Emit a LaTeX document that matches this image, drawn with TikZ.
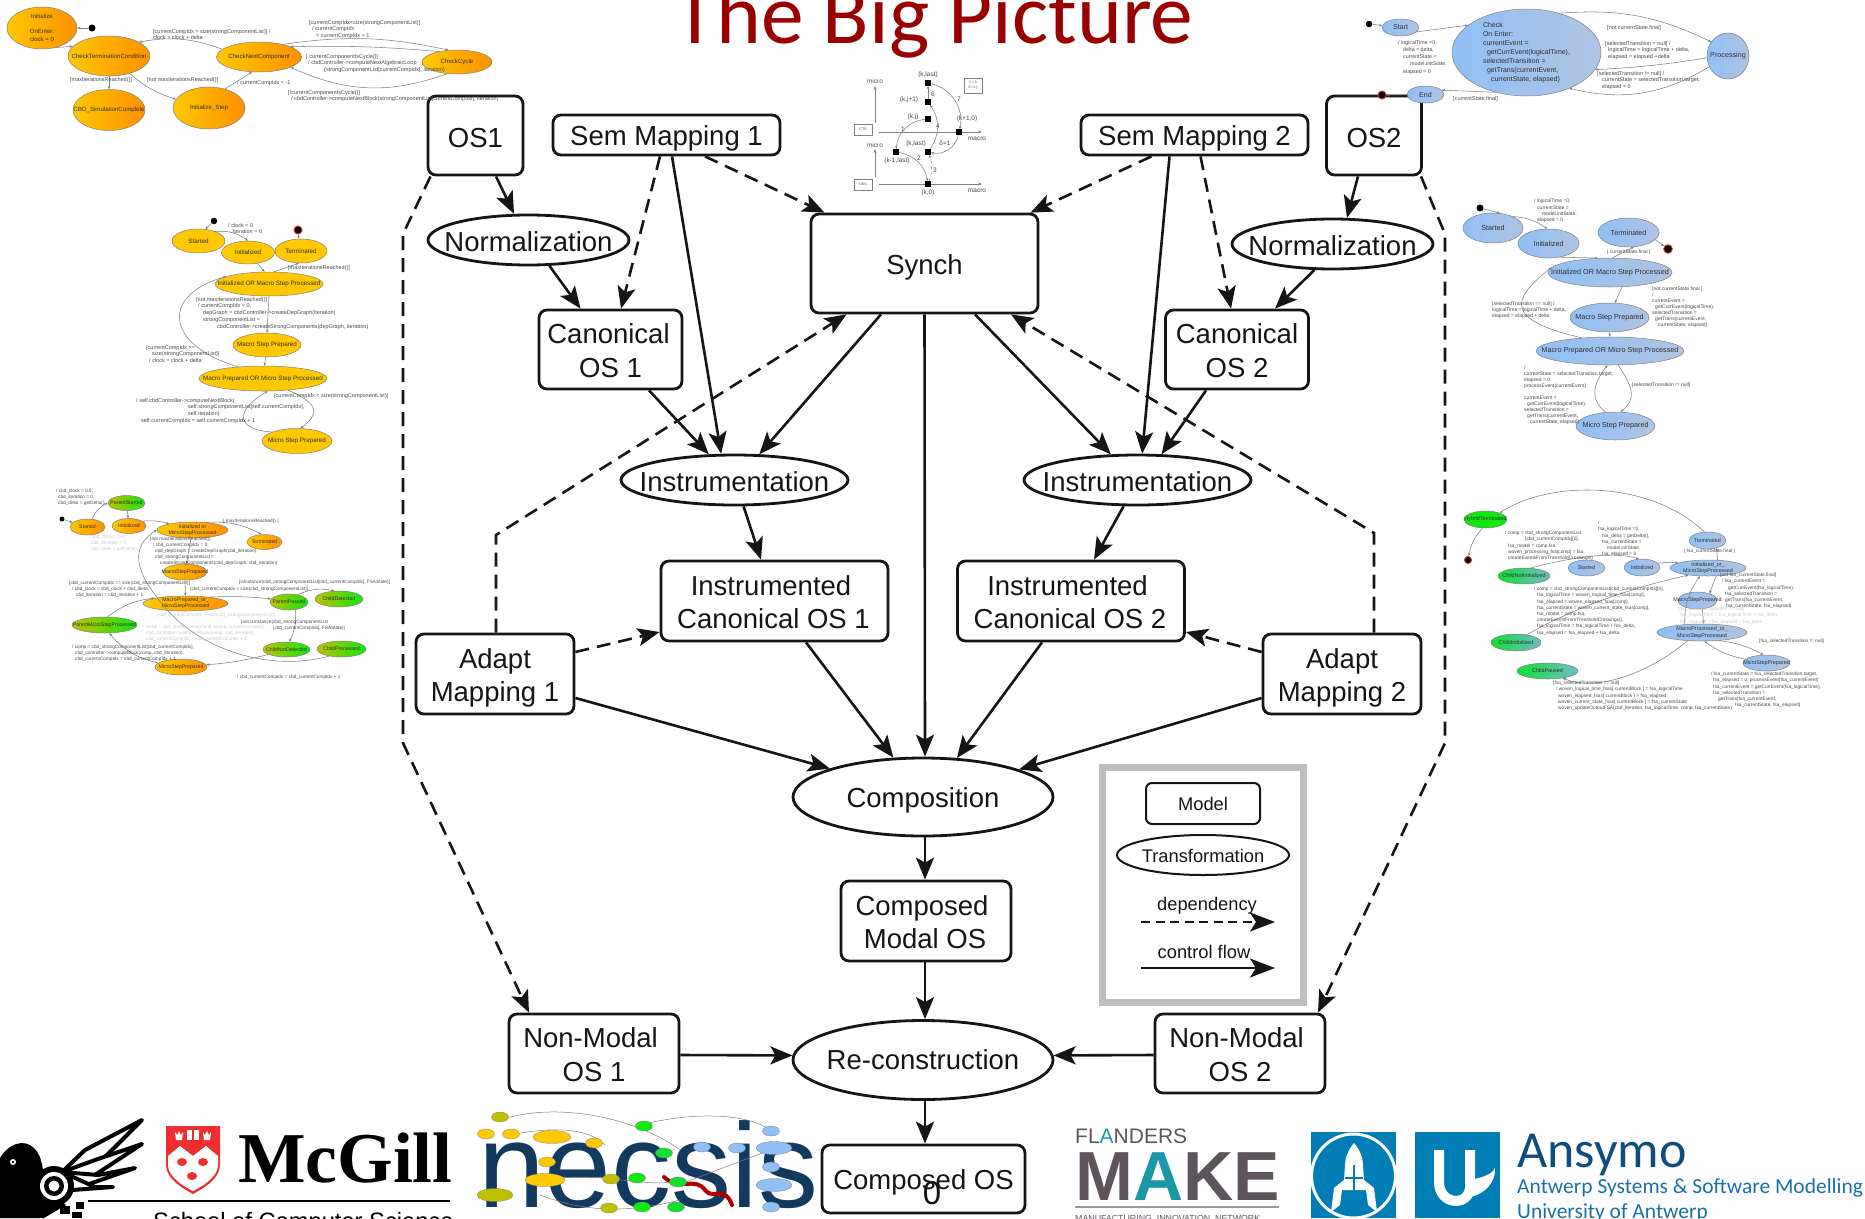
\documentclass[tikz,border=0pt]{standalone}
\usepackage{fontspec}
\setmainfont{Liberation Sans}
\newfontfamily\carl{Carlito}
\newfontfamily\lserif{Liberation Serif}
\usetikzlibrary{arrows.meta,shapes.geometric,calc}
\newcommand\fs[2]{\fontsize{#1}{#2}\selectfont}
\newcommand\ii[1]{\hspace*{#1pt}}
\newcommand\nd[1]{\rule{0pt}{#1pt}}
\definecolor{titlered}{HTML}{990000}
\definecolor{ink}{HTML}{151515}
\definecolor{stext}{HTML}{303030}
\definecolor{ltext}{HTML}{484848}
\definecolor{faint}{HTML}{C8C8C8}
\definecolor{sline}{HTML}{808080}
\definecolor{oa}{HTML}{FFC800}
\definecolor{ob}{HTML}{FF9000}
\definecolor{ygold}{HTML}{FFC800}
\definecolor{ba}{HTML}{90C0F5}
\definecolor{bb}{HTML}{AEC4E2}
\definecolor{ga}{HTML}{C0C000}
\definecolor{gb}{HTML}{10E810}
\definecolor{ta}{HTML}{10E030}
\definecolor{tb}{HTML}{70BCC8}
\definecolor{framegray}{HTML}{BEBEBE}
\definecolor{navy}{HTML}{123A5E}
\definecolor{fmgray}{HTML}{5C555C}
\definecolor{fmteal}{HTML}{1A98A8}
\definecolor{uablue}{HTML}{007DB5}
\definecolor{ansy}{HTML}{0F4D7C}
\definecolor{ansb}{HTML}{1A6FA8}
\definecolor{mcred}{HTML}{ED2F2F}
\tikzset{
  mbox/.style={draw=ink,fill=white,line width=2.8pt,rounded corners=8pt,inner sep=0pt,align=center,text=ink,font=\fs{27.5}{33.5}},
  mell/.style={ellipse,draw=ink,fill=white,line width=2.8pt,inner sep=-30pt,align=center,text=ink,font=\fs{27.5}{33.5}},
  ctrl/.style={draw=ink,line width=2.6pt,-{Stealth[length=22pt,width=18pt,inset=5pt]}},
  dep/.style={ctrl,dash pattern=on 14pt off 8pt},
  st/.style={ellipse,draw=sline,line width=.5pt,inner sep=-25pt,align=center,text=stext},
  org/.style={st,left color=oa,right color=ob},
  yel/.style={st,fill=ygold},
  blu/.style={st,left color=ba,right color=bb},
  grn/.style={st,left color=ga,right color=gb},
  tea/.style={st,left color=ta,right color=tb},
  hug/.style={st,fill=gb},
  lbl/.style={anchor=north west,inner sep=0pt,align=left,text=ltext},
  lfive/.style={lbl,font=\fs{5.5}{6.8}},
  lfour/.style={lbl,font=\fs{4.7}{6}},
  lsix/.style={lbl,font=\fs{4.8}{6.2}},
  lfaint/.style={lfour,text=faint},
  ee/.style={draw=sline,line width=.55pt,-{Stealth[length=3.2pt,width=2.6pt]}},
  idot/.style={circle,fill=black,inner sep=0pt,minimum size=#1},
  fdot/.style={circle,fill=black,draw=red!55!gray,line width=1pt,inner sep=0pt,minimum size=#1},
  sq/.style={fill=black,inner sep=0pt,minimum size=5.5pt},
  mlab/.style={inner sep=0pt,text=ltext,font=\fs{6.5}{8}},
  axis/.style={draw=sline,line width=.7pt,-{Stealth[length=4pt,width=3pt]}},
  tiny/.style={draw=sline,fill=white,line width=.5pt,inner sep=0pt,text=ltext,font=\fs{3.6}{5},align=center},
}
\begin{document}
\begin{tikzpicture}[x=1pt,y=-1pt]
\useasboundingbox (0,0) rectangle (1865,1218);

% title
\node[anchor=base,inner sep=0pt,text=titlered,font={\carl\fs{85.5}{90}}] (title) at (934,43.5) {The Big Picture};

%%%% logos, behind
% bird
\fill[black] (0,1158) .. controls (8,1144) and (24,1138) .. (34,1148) .. controls (44,1158) and (42,1172) .. (46,1185) -- (66,1205) -- (44,1218) -- (0,1218) -- cycle;
\fill[white] (13,1162) circle (3); \fill[black] (13,1162) circle (1.4);
\foreach \pa/\pb/\pc/\pd in {142/1120/85/1150,142/1144/95/1160,135/1168/98/1175,113/1187/95/1187}{
  \filldraw[draw=black,line width=4pt,fill=white,line join=round] (\pa,\pb) -- (\pc,\pd) -- (62,1172) -- (72,1190) -- cycle;
}
\fill[black] (54,1186) circle (20); \fill[white] (54,1186) circle (14); \fill[black] (54,1186) circle (10); \fill[white] (54,1186) circle (5.5);
\fill[black] (60,1206) rectangle (70,1214); \fill[black] (72,1212) rectangle (82,1218); \fill[black] (76,1202) rectangle (84,1209);
\draw[black,line width=1.2pt] (88,1201) -- (450,1201);
% shield
\fill[mcred] (166,1126) -- (220,1126) -- (220,1165) .. controls (220,1180) and (200,1190) .. (193,1194) .. controls (186,1190) and (166,1180) .. (166,1165) -- cycle;
\fill[white] (168,1156) -- (180,1146) -- (193,1156) -- (206,1146) -- (218,1156) -- (218,1165) .. controls (218,1178) and (199,1188) .. (193,1191) .. controls (187,1188) and (168,1178) .. (168,1165) -- cycle;
\fill[white] (187,1130) rectangle (199,1140);
\fill[mcred] (192.4,1130) rectangle (193.6,1140);
\fill[white] (175,1132) -- (177,1135) -- (179,1131) -- (181,1135) -- (183,1132) -- (182,1140) -- (176,1140) -- cycle;
\fill[white] (203,1132) -- (205,1135) -- (207,1131) -- (209,1135) -- (211,1132) -- (210,1140) -- (204,1140) -- cycle;
\fill[mcred] (182,1162) ellipse (5 and 4); \fill[mcred] (203,1162) ellipse (5 and 4); \fill[mcred] (192,1176) ellipse (5 and 4);
\node[anchor=base west,inner sep=0pt,font={\lserif\bfseries\fs{71.5}{75}},text=black] (mcgill) at (238,1182) {McGill};
\node[anchor=base west,inner sep=0pt,font=\fs{23.7}{28},text=black] (school) at (153,1229) {School of Computer Science};

% necsis
\node[anchor=base west,inner sep=0pt,font=\fs{120}{125},text=navy] (necsis) at (478,1207) {necsis};
\draw[red!70!black,line width=4pt,line cap=round] (664,1177) .. controls (680,1192) and (695,1176) .. (705,1190) .. controls (712,1200) and (725,1185) .. (732,1205);
\draw[gray,line width=.5pt] (500,1120) .. controls (560,1100) and (640,1120) .. (680,1150) (510,1135) .. controls (560,1125) and (590,1130) .. (605,1145) (640,1125) .. controls (700,1110) and (750,1115) .. (770,1130) (545,1180) .. controls (600,1170) and (650,1190) .. (680,1180) (540,1195) .. controls (580,1210) and (620,1215) .. (680,1200) (678,1185) -- (770,1150);
\foreach \lx/\ly/\lc in {500/1117/ga,486/1134/oa,511/1134/oa,594/1143/oa,547/1162/oa,611/1179/ga,637/1178/gb,678/1182/ta,644/1126/gb,664/1153/ta,702/1147/ba,737/1148/ba,771/1131/ba,771/1167/ba,771/1207/ba,676/1207/ta,642/1207/gb,609/1208/ga}{
  \fill[\lc,draw=sline,line width=.3pt] (\lx,\ly) ellipse (8.5 and 5);
}
\fill[oa,draw=sline,line width=.3pt] (552,1137) ellipse (19 and 6.5);
\fill[oa,draw=sline,line width=.3pt] (545,1180) ellipse (20 and 6.5);
\fill[ga,draw=sline,line width=.3pt] (495,1195) ellipse (18 and 6.5);
\fill[ba,draw=sline,line width=.3pt] (774,1148) ellipse (18 and 6.5);
\fill[ba,draw=sline,line width=.3pt] (774,1185) ellipse (18 and 6.5);

% flanders make
\node[anchor=base west,inner sep=0pt,font=\fs{21}{24},text=fmgray] (flanders) at (1075,1143) {FL\textcolor{fmteal}{A}NDERS};
\node[anchor=base west,inner sep=0pt,font={\bfseries\fs{69.5}{72}},text=fmgray] (make) at (1075,1200) {M\textcolor{fmteal}{A}KE};
\draw[fmgray!60,line width=1.6pt] (1075,1207) -- (1279,1207);
\node[anchor=north west,inner sep=0pt,font=\fs{8.8}{10},text=fmgray] (mfg) at (1075,1215) {MANUFACTURING\ \ INNOVATION\ \ NETWORK};

% uantwerp
\begin{scope}
\clip (1311,1132) rectangle (1396,1218);
\fill[uablue] (1311,1132) rectangle (1396,1218);
\draw[white,line width=3pt] (1353.5,1176) circle (42);
\fill[white] (1354,1143) .. controls (1360,1150) and (1363,1158) .. (1363,1165) -- (1364,1180) -- (1374,1188) -- (1377,1212) -- (1368,1205) -- (1366,1190) -- (1342,1190) -- (1340,1205) -- (1331,1212) -- (1334,1188) -- (1344,1180) -- (1345,1165) .. controls (1345,1158) and (1348,1150) .. (1354,1143) -- cycle;
\draw[uablue,line width=2.5pt] (1354,1165) -- (1354,1190) (1345,1178) -- (1363,1178);
\end{scope}
\fill[uablue] (1415,1132) rectangle (1500,1218);
\draw[white,line width=10pt] (1439,1150) -- (1439,1182) .. controls (1439,1205) and (1468,1207) .. (1470,1188) -- (1470,1150);
\fill[white] (1470,1180) .. controls (1480,1178) and (1492,1175) .. (1495,1168) .. controls (1496,1182) and (1485,1194) .. (1470,1197) -- cycle;
\node[anchor=base west,inner sep=0pt,font={\carl\fs{52}{56}},text=ansy] (ansymo) at (1517,1167) {Ansymo};
\node[anchor=base west,inner sep=0pt,font={\carl\fs{21.5}{25}},text=ansb] (ansys) at (1517,1193) {Antwerp Systems \& Software Modelling};
\node[anchor=base west,inner sep=0pt,font={\carl\fs{21.5}{25}},text=ansb] (ansu) at (1517,1218) {University of Antwerp};

%%%% main nodes
\node[mbox,minimum width=95pt,minimum height=79pt] (os1) at (475.5,135.5) {\nd{25}OS1};
\node[mbox,minimum width=95pt,minimum height=79pt] (os2) at (1374,135.5) {\nd{25}OS2};
\node[mbox,minimum width=227pt,minimum height=40pt] (sem1) at (666.5,135) {\nd{26}Sem Mapping 1};
\node[mbox,minimum width=227pt,minimum height=40pt] (sem2) at (1194.5,135) {\nd{26}Sem Mapping 2};
\node[mell,minimum width=201pt,minimum height=50pt] (norml) at (528.5,240) {\nd{22.5}Normalization};
\node[mell,minimum width=201pt,minimum height=50pt] (normr) at (1332.5,244) {\nd{22.5}Normalization};
\node[mbox,minimum width=227pt,minimum height=99pt] (synch) at (924.5,263.5) {\nd{27}Synch};
\node[mbox,minimum width=143pt,minimum height=79pt] (can1) at (610.5,349.5) {\nd{22.5}Canonical\ii{4}\\OS 1};
\node[mbox,minimum width=143pt,minimum height=79pt] (can2) at (1237,349.5) {\nd{22.5}Canonical\\OS 2};
\node[mell,minimum width=227pt,minimum height=50pt] (instl) at (734.5,480) {\nd{22.5}Instrumentation};
\node[mell,minimum width=227pt,minimum height=50pt] (instr) at (1137.5,480) {\nd{22.5}Instrumentation};
\node[mbox,minimum width=227pt,minimum height=80pt] (ic1) at (774.5,601) {\nd{22.5}Instrumented\ii{7}\\Canonical OS 1\ii{2}};
\node[mbox,minimum width=227pt,minimum height=80pt] (ic2) at (1071,601) {\nd{22.5}Instrumented\ii{7}\\Canonical OS 2\ii{2}};
\node[mbox,minimum width=158pt,minimum height=80pt] (ad1) at (495,674) {\nd{28}Adapt\\Mapping 1};
\node[mbox,minimum width=158pt,minimum height=80pt] (ad2) at (1342,674) {\nd{28}Adapt\\Mapping 2};
\node[mell,minimum width=260pt,minimum height=78pt] (comp) at (923,797) {\nd{27}Composition};
\node[mbox,minimum width=170pt,minimum height=80pt] (cmos) at (926,921) {\nd{22.5}Composed\ii{8}\\Modal OS\ii{2}};
\node[mbox,minimum width=170pt,minimum height=79pt] (nm1) at (594,1053.5) {\nd{22.5}Non-Modal\ii{7}\\OS 1};
\node[mbox,minimum width=170pt,minimum height=79pt] (nm2) at (1240,1053.5) {\nd{22.5}Non-Modal\ii{7}\\OS 2};
\node[mell,minimum width=260pt,minimum height=79pt] (rec) at (923,1060) {Re-construction};
\node[mbox,minimum width=203pt,minimum height=68pt] (cos) at (923.5,1179) {\nd{27}Composed OS};
\node[inner sep=0pt,font=\fs{33}{36},text=ink] (pageno) at (932,1193) {0};

%%%% main connectors
\coordinate (bl1) at (403,234); \coordinate (bl2) at (403,743);
\coordinate (br1) at (1445,234); \coordinate (br2) at (1445,743);
\coordinate (ml) at (496,535); \coordinate (mr) at (1374,533);
\draw[ctrl] ($(os1.south)+(20.5,0)$) -- (norml.119);
\draw[ctrl] (norml.-51) -- ($(can1.north)+(-30,0)$);
\draw[dep] ($(sem1.south)+(-6.5,0)$) -- ($(can1.north)+(10.5,0)$);
\draw[ctrl] ($(sem1.south)+(5.5,0)$) -- (instl.117);
\draw[dep] ($(sem1.south)+(38.5,0)$) -- ($(synch.north)+(-100,0)$);
\draw[dep] ($(sem2.south)+(-43,0)$) -- ($(synch.north)+(106,0)$);
\draw[ctrl] ($(sem2.south)+(-25,0)$) -- (instr.80);
\draw[dep] ($(sem2.south)+(6,0)$) -- ($(can2.north)+(-6,0)$);
\draw[ctrl] ($(os2.south)+(-16,0)$) -- (normr.61);
\draw[ctrl] (normr.-125) -- ($(can2.north)+(38,0)$);
\draw[ctrl] ($(can1.south)+(38.5,0)$) -- (instl.135);
\draw[ctrl] ($(can2.south)+(-31,0)$) -- (instr.47.5);
\draw[ctrl] ($(synch.south)+(-43.5,0)$) -- (instl.46);
\draw[ctrl] ($(synch.south)+(50.5,0)$) -- (instr.136);
\draw[ctrl] (synch.south) -- ($(comp.north)+(2,0)$);
\draw[dep] ($(ad1.north)+(1,0)$) -- (ml) -- ($(synch.south)+(-78,0)$);
\draw[dep] ($(ad2.north)+(32,0)$) -- (mr) -- ($(synch.south)+(86.5,0)$);
\draw[ctrl] (instl.-71) -- ($(ic1.north)+(-13.5,0)$);
\draw[ctrl] (instr.-118) -- ($(ic2.north)+(23,0)$);
\draw[dep] ($(ad1.east)+(0,-22)$) -- ($(ic1.west)+(0,31)$);
\draw[dep] ($(ad2.west)+(0,-22)$) -- ($(ic2.east)+(0,31)$);
\draw[ctrl] ($(ic1.south)+(31.5,0)$) -- (comp.127.4);
\draw[ctrl] ($(ic2.south)+(-29,0)$) -- (comp.49.7);
\draw[ctrl] ($(ad1.east)+(0,24)$) -- (comp.163.7);
\draw[ctrl] ($(ad2.west)+(0,24)$) -- (comp.16);
\draw[ctrl] ($(comp.south)+(2,0)$) -- ($(cmos.north)+(-1,0)$);
\draw[ctrl] ($(cmos.south)+(-1,0)$) -- ($(rec.north)+(2,0)$);
\draw[ctrl] ($(nm1.east)+(0,1.5)$) -- (rec.178);
\draw[ctrl] ($(nm2.west)+(0,1.5)$) -- (rec.2);
\draw[ctrl] ($(rec.south)+(2,0)$) -- ($(cos.north)+(1.5,0)$);
\draw[dep] ($(os1.south)+(-45,0)$) -- (bl1) -- (bl2) -- ($(nm1.north)+(-65,0)$);
\draw[dep] ($(os2.south)+(47,0)$) -- (br1) -- (br2) -- ($(nm2.north)+(78,0)$);

%%%% legend
\node[draw=framegray,line width=7pt,minimum width=201pt,minimum height=235pt,inner sep=0pt] (frame) at (1203,884.5) {};
\node[mbox,line width=2pt,rounded corners=6pt,minimum width=114pt,minimum height=41pt,font=\fs{18.3}{22}] (lmodel) at (1203,803.5) {Model};
\node[mell,line width=2pt,inner sep=-20pt,minimum width=172pt,minimum height=40pt,font=\fs{18.3}{22}] (ltrans) at (1203,855) {\nd{15}Transformation};
\coordinate (ld1) at (1141,922); \coordinate (ld2) at (1275,922);
\coordinate (lc1) at (1141,968); \coordinate (lc2) at (1275,968);
\draw[dep,line width=2pt,-{Stealth[length=25pt,width=19pt,inset=6pt]},dash pattern=on 9pt off 5.5pt] (ld1) -- (ld2);
\draw[ctrl,line width=2pt,-{Stealth[length=25pt,width=19pt,inset=6pt]}] (lc1) -- (lc2);
\node[inner sep=0pt,font=\fs{18.3}{22},text=ink] (ldep) at (1207,906) {dependency};
\node[inner sep=0pt,font=\fs{18.3}{22},text=ink] (lctl) at (1204,952) {control flow};

%%%% mini 1: top left
\node[org,font=\fs{6}{7.6},minimum width=70pt,minimum height=42pt] (a1) at (42,28) {Initialize\\[7.6pt]OnEnter:\\clock = 0};
\node[idot=7pt] (a0) at (92,28) {};
\node[org,font=\fs{6.1}{7.6},minimum width=82pt,minimum height=40pt] (a2) at (109,56) {CheckTerminationCondition};
\node[org,font=\fs{6.1}{7.6},minimum width=85pt,minimum height=30pt] (a3) at (259,57) {CheckNextComponent};
\node[org,font=\fs{6.1}{7.6},minimum width=70pt,minimum height=24pt] (a4) at (457,62) {CheckCycle};
\node[org,font=\fs{6.1}{7.6},minimum width=72pt,minimum height=41pt] (a5) at (109,110) {CBO\_SimulationComplete};
\node[org,font=\fs{6.1}{7.6},minimum width=72pt,minimum height=42pt] (a6) at (209,108) {Initialize\_Step};
\draw[ee] (a0) -- (a1);
\draw[ee] (a1.-55) -- (a2.165);
\draw[ee] (a2) -- (a5);
\draw[ee] (a2.-40) to[bend right=12] (a6.165);
\draw[ee] (a6.50) -- (a3.-115);
\draw[ee] (a3.168) to[bend right=15] (a2.25);
\draw[ee] (a3.28) to[bend left=10] (a4.125);
\draw[ee] (a4.150) to[bend right=3] (a3.18);
\draw[ee] (a4.-130) to[bend left=22] (a3.-18);
\node[lfive] (al1) at (153,29) {{[}currentCompIdx > size(strongComponentList)] /\\clock = clock + delta};
\node[lfive] (al2) at (309,20) {{[}currentCompIdx<size(strongComponentList)]\\\ii{3}/ currentCompIdx\\\ii{7}= currentCompIdx + 1};
\node[lfive] (al3) at (306,54) {{[} currentComponentIsCycle()]\\\ii{2}/ cbdController->computeNextAlgebraicLoop\\\ii{18}(strongComponentList[currentCompIdx], iteration)};
\node[lfive] (al4) at (288,90) {{[}!currentComponentIsCycle()]\\\ii{3}/ cbdController->computeNextBlock(strongComponentList[currentCompIdx], iteration)};
\node[lfive] (al5) at (70,77) {{[}maxIterationsReached()]};
\node[lfive] (al6) at (147,77) {{[}not maxIterationsReached()]};
\node[lfive] (al7) at (237,80) {/ currentCompIdx = -1};

%%%% mini 2
\node[idot=6.5pt] (b0) at (214,221) {};
\node[yel,font=\fs{6.3}{7.8},minimum width=53pt,minimum height=24pt] (b1) at (198.5,241) {Started};
\node[yel,font=\fs{6.3}{7.8},minimum width=53pt,minimum height=23pt] (b2) at (248,252.5) {Initialized};
\node[yel,font=\fs{6.3}{7.8},minimum width=52pt,minimum height=24pt] (b3) at (301,251) {Terminated};
\node[fdot=8pt] (b9) at (298,230) {};
\node[yel,font=\fs{6.3}{7.8},minimum width=108pt,minimum height=24pt] (b4) at (269,284) {Initialized OR Macro Step Processed};
\node[yel,font=\fs{6.3}{7.8},minimum width=68pt,minimum height=24pt] (b5) at (267,345) {Macro Step Prepared};
\node[yel,font=\fs{6.3}{7.8},minimum width=128pt,minimum height=25pt] (b6) at (263,378.5) {Macro Prepared OR Micro Step Processed};
\node[yel,font=\fs{6.3}{7.8},minimum width=70pt,minimum height=25pt] (b7) at (297,441) {Micro Step Prepared};
\draw[ee] (b0) -- (b1.60);
\draw[ee] (b1.30) to[bend left=20] (b2.90);
\draw[ee] (b2) -- (b4.110);
\draw[ee] (b4.68) -- (b3.-100);
\draw[ee] (b3.100) -- (b9);
\draw[ee] (b4.south) -- (b5.north);
\draw[ee] (b5) -- (b6);
\draw[ee] (b6.155) .. controls (165,345) and (160,295) .. (b4.170);
\draw[ee] (b6.-25) .. controls (322,405) and (318,415) .. (b7.75);
\draw[ee] (b7.160) .. controls (235,430) and (235,410) .. (b6.-70);
\node[lfive] (bl1t) at (228,223) {/ clock = 0\\\ii{5}iteration = 0};
\node[lfive] (bl2t) at (288,265) {{[}maxIterationsReached()]};
\node[lfive] (bl3t) at (196,297) {{[}not maxIterationsReached()]\\\ii{2}/ currentCompIdx = 0,\\\ii{7}depGraph = cbdController->createDepGraph(iteration)\\\ii{7}strongComponentList =\\\ii{21}cbdController->createStrongComponents(depGraph, iteration)};
\node[lfive] (bl4t) at (146,345) {{[}currentCompIdx >=\\\ii{6}size(strongComponentList)]\\\ii{3}/ clock = clock + delta};
\node[lfive] (bl5t) at (274,393) {{[}currentCompIdx < size(strongComponentList)]};
\node[lfive] (bl6t) at (136,398) {/ self.cbdController->computeNextBlock(\\\ii{52}self.strongComponentList[self.currentCompIdx],\\\ii{52}self.iteration)\\\ii{5}self.currentCompIdx = self.currentCompIdx + 1};

%%%% mini 3
\node[idot=5pt] (c0) at (62,519) {};
\node[org,font=\fs{5.2}{6.2},minimum width=35pt,minimum height=16pt] (c1) at (87.5,527) {Started};
\node[org,font=\fs{5.2}{6.2},minimum width=34pt,minimum height=15pt] (c2) at (129,526) {Initialized};
\node[grn,font=\fs{5.2}{6.2},minimum width=37pt,minimum height=15pt] (c3) at (126.5,503) {ParentStarted};
\node[org,font=\fs{5.2}{6.2},minimum width=71pt,minimum height=16pt] (c4) at (192.5,530) {Initialized or\\MicroStepProcessed};
\node[org,font=\fs{5.2}{6.2},minimum width=35pt,minimum height=15pt] (c5) at (264.5,542) {Terminated};
\node[org,font=\fs{5.2}{6.2},minimum width=44pt,minimum height=16pt] (c6) at (185,572) {MacroStepPrepared};
\node[org,font=\fs{5.2}{6.2},minimum width=85pt,minimum height=15pt] (c7) at (185.5,603.5) {MacroPrepared\_or\_\\MicroStepProcessed};
\node[grn,font=\fs{5.2}{6.2},minimum width=38pt,minimum height=16pt] (c8) at (289,602) {ParentPassed};
\node[grn,font=\fs{5.2}{6.2},minimum width=48pt,minimum height=16pt] (c9) at (339,599) {ChildDetected};
\node[grn,font=\fs{5.2}{6.2},minimum width=65pt,minimum height=16pt] (c10) at (104.5,625) {ParentMicroStepProcessed};
\node[grn,font=\fs{5.2}{6.2},minimum width=47pt,minimum height=15pt] (c11) at (286.5,649.5) {ChildNotDetected};
\node[grn,font=\fs{5.2}{6.2},minimum width=49pt,minimum height=16pt] (c12) at (341.5,649) {ChildProcessed};
\node[org,font=\fs{5.2}{6.2},minimum width=52pt,minimum height=16pt] (c13) at (181,667) {MicroStepPrepared};
\draw[ee] (c0) -- (c1);
\draw[ee] (c1.60) to[bend left=20] (c3.west);
\draw[ee] (c3) -- (c2);
\draw[ee] (c2.20) to[bend left=10] (c4.165);
\draw[ee] (c4.30) to[bend left=15] (c5.110);
\draw[ee] (c4) -- (c6);
\draw[ee] (c6) -- (c7);
\draw[ee] (c7.15) to[bend left=4] (c8.170);
\draw[ee] (c8.40) to[bend left=18] (c9.120);
\draw[ee] (c8.-50) to[bend left=15] (c11.70);
\draw[ee] (c11.-165) to[bend left=5] (c13.5);
\draw[ee] (c13.170) to[bend left=18] (c10.-60);
\draw[ee] (c10.70) to[bend left=15] (c7.170);
\draw[ee] (c12.-150) .. controls (270,672) and (205,650) .. (170,613) .. controls (140,580) and (125,550) .. (c4.west);
\node[lfour] (cl1) at (56,489) {/ cbd\_clock = 0.0,\\\ii{2}cbd\_iteration = 0,\\\ii{2}cbd\_delta = getDelta()};
\node[lfour] (cl2) at (223,519) {{[} maxIterationsReached() ]};
\node[lfour] (cl3) at (150,537) {{[}not maxIterationsReached()]\\\ii{3}/ cbd\_currentCompIdx = 0,\\\ii{5}cbd\_depGraph = createDepGraph(cbd\_iteration)\\\ii{5}cbd\_strongComponentList =\\\ii{10}createStrongComponents(cbd\_depGraph, cbd\_iteration)};
\node[lfour] (cl4) at (69,581) {{[}cbd\_currentCompIdx == size(cbd\_strongComponentList)]\\\ii{3}/ cbd\_clock = cbd\_clock + cbd\_delta,\\\ii{7}cbd\_iteration = cbd\_iteration + 1};
\node[lfour] (cl5) at (190,587) {{[}cbd\_currentCompIdx < size(cbd\_strongComponentList)]};
\node[lfour] (cl6) at (239,580) {{[}isInstance(cbd\_strongComponentList[cbd\_currentCompIdx], FSAState)]};
\node[lfour] (cl7) at (241,620) {{[}not isInstance(cbd\_strongComponentList\\\ii{32}{[}cbd\_currentCompIdx], FSAState)]};
\node[lfour] (cl8) at (72,645) {/ comp = cbd\_strongComponentList[cbd\_currentCompIdx],\\\ii{3}cbd\_controller->computeBlock(comp, cbd\_iteration),\\\ii{3}cbd\_currentCompIdx = cbd\_currentCompIdx + 1};
\node[lfour] (cl9) at (237,675) {/ cbd\_currentCompIdx = cbd\_currentCompIdx + 1};
\node[lfaint] (cl10) at (89,535) {/ cbd\_clock = 0.0,\\\ii{2}cbd\_iteration = 0,\\\ii{2}cbd\_delta = getDelta()};
\node[lfaint] (cl11) at (157,613) {{[}cbd\_currentCompIdx < size(cbd\_strongComponentList)]};
\node[lfaint] (cl12) at (143,625) {/ comp = cbd\_strongComponentList[cbd\_currentCompIdx],\\\ii{3}cbd\_controller->computeBlock(comp, cbd\_iteration),\\\ii{3}cbd\_currentCompIdx = cbd\_currentCompIdx + 1};

%%%% mini 4
\node[idot=6.5pt] (d0) at (1369,24) {};
\node[blu,font=\fs{7.1}{9},minimum width=37pt,minimum height=17pt] (d1) at (1400.5,27.5) {Start};
\node[blu,font=\fs{7}{9},align=left,minimum width=149pt,minimum height=87pt] (d2) at (1526.5,52.5) {Check\\On Enter:\\currentEvent =\\\ii{4}getCurrEvent(logicalTime),\ii{32}\\selectedTransition =\\\ii{4}getTrans(currentEvent,\\\ii{8}currentState, elapsed)};
\node[blu,font=\fs{7.2}{9},minimum width=42pt,minimum height=46pt] (d3) at (1728,56) {Processing};
\node[blu,font=\fs{7.1}{9},minimum width=37pt,minimum height=17pt] (d4) at (1425.5,94.5) {End};
\node[fdot=8pt] (d9) at (1382,95) {};
\draw[ee] (d0) -- (d1);
\draw[ee] (d1.-15) -- (d2.155);
\draw[ee] (d2.-128) -- (d4.15);
\draw[ee] (d4) -- (d9);
\draw[ee] (d2.50) to[bend left=15] (d3.140);
\draw[ee] (d3.-175) to[bend left=3] (d2.-14);
\draw[ee] (d3.-150) to[bend left=22] (d2.-40);
\node[lfive,font=\fs{5.3}{7.3}] (dl1) at (1398,40) {/ logicalTime =0,\\\ii{5}delta = delta,\\\ii{5}currentState =\\\ii{12}model.initState,\\\ii{5}elapsed = 0};
\node[lfive] (dl2) at (1607,25) {{[}not currentState.final]};
\node[lfive] (dl3) at (1605,41) {{[}selectedTransition = null] /\\\ii{3}logicalTime = logicalTime + delta,\\\ii{3}elapsed = elapsed +delta};
\node[lfive] (dl4) at (1597,71) {{[}selectedTransition != null] /\\\ii{5}currentState = selectedTransition.target,\\\ii{5}elapsed = 0};
\node[lfive] (dl5) at (1453,96) {{[}currentState.final]};

%%%% mini 5
\node[idot=7pt] (e0) at (1480,208) {};
\node[blu,font=\fs{7.2}{9},minimum width=60pt,minimum height=30pt] (e1) at (1493,228) {Started};
\node[blu,font=\fs{7.2}{9},minimum width=61pt,minimum height=29pt] (e2) at (1548.5,243.5) {Initialized};
\node[blu,font=\fs{7.2}{9},minimum width=61pt,minimum height=29pt] (e3) at (1628.5,232.5) {Terminated};
\node[fdot=8.5pt] (e9) at (1668,249) {};
\node[blu,font=\fs{7.2}{9},minimum width=124pt,minimum height=29pt] (e4) at (1610,272.5) {Initialized OR Macro Step Processed};
\node[blu,font=\fs{7.2}{9},minimum width=79pt,minimum height=29pt] (e5) at (1609.5,317.5) {Macro Step Prepared};
\node[blu,font=\fs{7.2}{9},minimum width=148pt,minimum height=28pt] (e6) at (1610,351) {Macro Prepared OR Micro Step Processed};
\node[blu,font=\fs{7.2}{9},minimum width=79pt,minimum height=28pt] (e7) at (1615.5,426) {Micro Step Prepared};
\draw[ee] (e0) -- (e1.65);
\draw[ee] (e1.30) to[bend left=15] (e2.95);
\draw[ee] (e2.-50) -- (e4.130);
\draw[ee] (e4.80) -- (e3.-70);
\draw[ee] (e3.-15) -- (e9);
\draw[ee] (e4.-50) -- (e5.70);
\draw[ee] (e5) -- (e6);
\draw[ee] (e6.155) .. controls (1505,320) and (1510,300) .. (e4.175);
\draw[ee] (e6.-60) .. controls (1635,390) and (1635,400) .. (e7.70);
\draw[ee] (e7.125) .. controls (1590,400) and (1592,385) .. (e6.-100);
\node[lfive,font=\fs{5}{6.2}] (el1) at (1534,199) {/ logicalTime =0,\\\ii{3}currentState =\\\ii{8}model.initState,\\\ii{3}elapsed = 0};
\node[lfive,font=\fs{5}{6.2}] (el2) at (1607,250) {{[} currentState.final ]};
\node[lfive,font=\fs{5}{6}] (el3) at (1652,287) {{[}not currentState.final ]\\/\\currentEvent =\\\ii{3}getCurrEvent(logicalTime),\\selectedTransition =\\\ii{3}getTrans(currentEvent,\\\ii{6}currentState, elapsed)};
\node[lfive,font=\fs{5}{6}] (el4) at (1492,302) {{[}selectedTransition == null] /\\logicalTime = logicalTime + delta,\\elapsed = elapsed + delta};
\node[lfive,font=\fs{5}{6}] (el5) at (1524,366) {/\\currentState = selectedTransition.target,\\elapsed = 0\\processEvent(currentEvent)\\[6pt]currentEvent =\\\ii{3}getCurrEvent(logicalTime),\\selectedTransition =\\\ii{3}getTrans(currentEvent,\\\ii{6}currentState, elapsed)};
\node[lfive,font=\fs{5}{6}] (el6) at (1632,383) {{[}selectedTransition != null]};

%%%% mini 6
\node[hug,font=\fs{5.4}{6.4},minimum width=43pt,minimum height=17pt] (f1) at (1485.5,519.5) {HybridTerminated};
\node[fdot=7pt] (f9) at (1468,560) {};
\node[blu,font=\fs{5.4}{6.4},minimum width=37pt,minimum height=17pt] (f2) at (1707.5,540.5) {Terminated};
\node[tea,font=\fs{5.4}{6.4},minimum width=52pt,minimum height=16pt] (f3) at (1524,576) {ChildNotInitialized};
\node[blu,font=\fs{5.4}{6.4},minimum width=37pt,minimum height=16pt] (f4) at (1586.5,568) {Started};
\node[blu,font=\fs{5.4}{6.4},minimum width=36pt,minimum height=17pt] (f5) at (1642,567.5) {Initialized};
\node[blu,font=\fs{5.4}{6.4},minimum width=76pt,minimum height=16pt] (f6) at (1708,568) {Initialized\_or\_\\MicroStepProcessed};
\node[blu,font=\fs{5.4}{6.4},minimum width=39pt,minimum height=17pt] (f7) at (1697.5,600.5) {MacroStepPrepared};
\node[blu,font=\fs{5.4}{6.4},minimum width=90pt,minimum height=17pt] (f8) at (1702,632.5) {MacroProcessed\_or\_\\MicroStepProcessed};
\node[tea,font=\fs{5.4}{6.4},minimum width=50pt,minimum height=17pt] (f10) at (1516,642.5) {ChildInitialized};
\node[tea,font=\fs{5.4}{6.4},minimum width=61pt,minimum height=16pt] (f11) at (1547.5,671) {ChildPaused};
\node[blu,font=\fs{5.4}{6.4},minimum width=47pt,minimum height=16pt] (f12) at (1766.5,663) {MicroStepPrepared};
\draw[ee] (f2.110) .. controls (1650,480) and (1550,480) .. (f1.25);
\draw[ee] (f1.-110) to[bend right=15] (f9);
\draw[ee] (f3.50) .. controls (1560,560) and (1610,550) .. (f5.110);
\draw[ee] (f5.15) to[bend left=5] (f6.170);
\draw[ee] (f6.40) -- (f2.-40);
\draw[ee] (f6.-45) -- (f7.30);
\draw[ee] (f7.-60) -- (f8.80);
\draw[ee] (f8.155) to[bend left=18] (f6.-135);
\draw[ee] (f10.35) .. controls (1560,615) and (1620,590) .. (f6.-160);
\draw[ee] (f8.-150) .. controls (1640,680) and (1590,690) .. (f11.-25);
\draw[ee] (f8.-25) to[bend left=10] (f12.110);
\draw[ee] (f12.170) to[bend left=12] (f8.-75);
\node[lsix] (fl1) at (1505,531) {/ comp = cbd\_strongComponentList\\\ii{20}{[}cbd\_currentCompIdx][0],\\\ii{3}fsa\_model = comp.fsa,\\\ii{3}woven\_processing\_fsa[comp] = fsa,\\\ii{3}createEventsFromThresholdCrossings()};
\node[lsix] (fl2) at (1598,521) {/\\fsa\_logicalTime =0,\\\ii{4}fsa\_delta = getDelta(),\\\ii{4}fsa\_currentState =\\\ii{9}model.initState,\\\ii{4}fsa\_elapsed = 0};
\node[lsix] (fl3) at (1684,549) {{[} fsa\_currentState.final ]};
\node[lsix] (fl4) at (1720,573) {{[}not fsa\_currentState.final]\\\ii{2}/ fsa\_currentEvent =\\\ii{8}getCurrEvent(fsa\_logicalTime),\\\ii{5}fsa\_selectedTransition =\\\ii{5}getTrans(fsa\_currentEvent,\\\ii{6}fsa\_currentState, fsa\_elapsed)};
\node[lsix] (fl5) at (1534,587) {/ comp = cbd\_strongComponentList[cbd\_currentCompIdx][0],\\\ii{3}fsa\_logicalTime = woven\_logical\_time\_fsas[comp],\\\ii{3}fsa\_elapsed = woven\_elapsed\_fsas[comp],\\\ii{3}fsa\_currentState = woven\_current\_state\_fsas[comp],\\\ii{3}fsa\_model = comp.fsa,\\\ii{3}createEventsFromThresholdCrossings(),\\\ii{3}fsa\_logicalTime = fsa\_logicalTime + fsa\_delta,\\\ii{3}fsa\_elapsed = fsa\_elapsed + fsa\_delta};
\node[lsix,text=faint] (fl6) at (1678,607) {{[}fsa\_selectedTransition == null]\\\ii{2}fsa\_logicalTime = fsa\_logicalTime + fsa\_delta,\\\ii{2}fsa\_elapsed = fsa\_elapsed + fsa\_delta};
\node[lsix] (fl7) at (1759,639) {{[}fsa\_selectedTransition != null]};
\node[lsix] (fl8) at (1711,672) {/ fsa\_currentState = fsa\_selectedTransition.target,\\\ii{2}fsa\_elapsed = 0, processEvent(fsa\_currentEvent)\\\ii{2}fsa\_currentEvent = getCurrEvent(fsa\_logicalTime),\\\ii{2}fsa\_selectedTransition =\\\ii{7}getTrans(fsa\_currentEvent,\\\ii{24}fsa\_currentState, fsa\_elapsed)};
\node[lsix] (fl9) at (1553,681) {{[}fsa\_selectedTransition == null]\\\ii{3}/ woven\_logical\_time\_fsas[ currentBlock ] = fsa\_logicalTime\\\ii{5}woven\_elapsed\_fsas[ currentBlock ] = fsa\_elapsed\\\ii{5}woven\_current\_state\_fsas[ currentBlock ] = fsa\_currentState\\\ii{5}woven\_updateOutputFSA(cbd\_iteration, fsa\_logicalTime, comp, fsa\_currentState)};

%%%% mini 7: time diagram
\coordinate (g1a) at (875,123); \coordinate (g1b) at (875,86);
\coordinate (g2a) at (879,132); \coordinate (g2b) at (982,132);
\coordinate (g3a) at (875,177); \coordinate (g3b) at (875,149);
\coordinate (g4a) at (879,184); \coordinate (g4b) at (982,184);
\draw[axis] (g1a) -- (g1b); \draw[axis] (g2a) -- (g2b); \draw[axis] (g3a) -- (g3b); \draw[axis] (g4a) -- (g4b);
\node[mlab] (gm1) at (875,81) {micro};
\node[mlab] (gm2) at (977,139) {macro};
\node[mlab] (gm3) at (875,145) {micro};
\node[mlab] (gm4) at (977,191) {macro};
\node[tiny,minimum width=18pt,minimum height=11pt] (gcts) at (863,129.5) {CTS};
\node[tiny,minimum width=18pt,minimum height=11pt] (gdes) at (863,184.5) {DES};
\node[tiny,minimum width=18pt,minimum height=15pt] (gcond) at (973,85.5) {1 < k\\0 <= j};
\node[sq] (s1) at (928,83) {};
\node[sq] (s2) at (928,102) {};
\node[sq] (s3) at (928,119) {};
\node[sq] (s4) at (959,132) {};
\node[sq] (s5) at (896,152) {};
\node[sq] (s6) at (928,152) {};
\node[sq] (s7) at (928,184) {};
\node[mlab] (sl1) at (928,74.5) {(k,last)};
\node[mlab] (sl2) at (909,100) {(k,j+1)};
\node[mlab] (sl3) at (913,117) {(k,j)};
\node[mlab] (sl4) at (967,119) {(k+1,0)};
\node[mlab] (sl5) at (897,161) {(k-1,last)};
\node[mlab] (sl6) at (916,144) {(k,last)};
\node[mlab] (sl7) at (928,192.5) {(k,0)};
\node[mlab] (n6) at (933,94) {6};
\node[mlab] (n7) at (959,99) {7};
\node[mlab] (n4) at (938,126) {4};
\node[mlab] (n1) at (903,129) {1};
\node[mlab] (nd) at (945,143) {δ=1};
\node[mlab] (n2) at (919,158) {2};
\node[mlab] (n3) at (935,170) {3};
\draw[ee] (s2) -- (s1);
\draw[ee] (s1) to[bend left=45] (s4);
\draw[ee] (s4) to[bend left=45] (s6);
\draw[ee] (s3) to[bend right=40] (s5);
\draw[ee] (s5) to[bend left=35] (s7);
\draw[ee,dashed] (s7) to[bend right=20] (s6);
\draw[ee] (s6) to[bend right=35] (s2);
\end{tikzpicture}
\end{document}
